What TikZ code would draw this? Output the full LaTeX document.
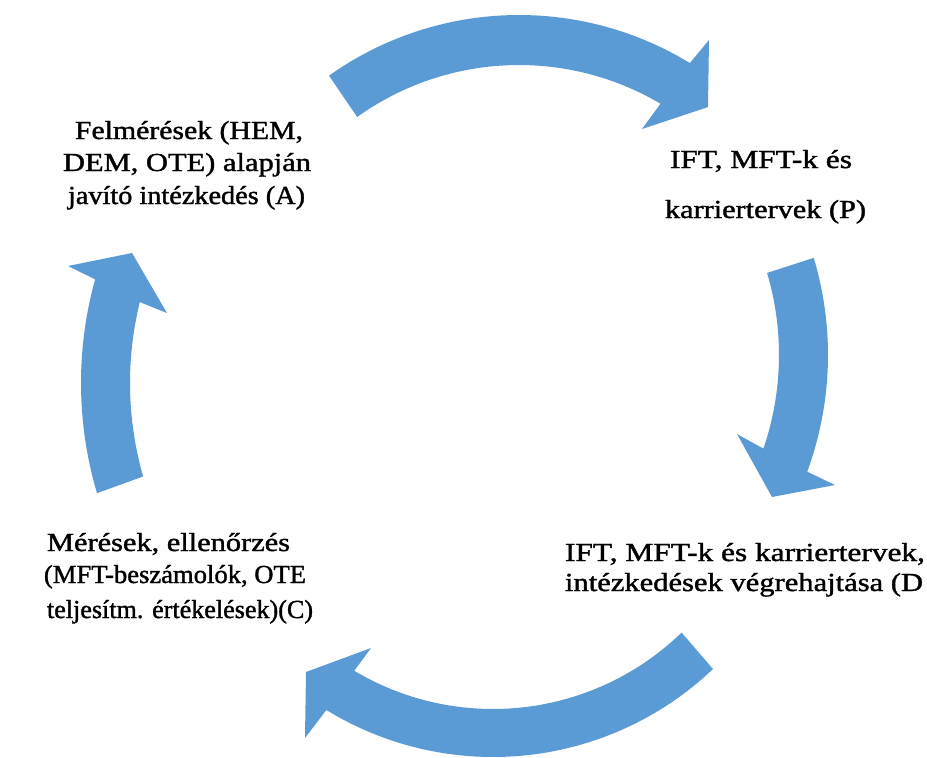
\documentclass[tikz,border=0pt]{standalone}
\usepackage{fontspec}
\usepackage{graphicx}
\setmainfont[FakeBold=1.3]{Liberation Serif}
\usetikzlibrary{calc}
\definecolor{cycblue}{RGB}{91,155,213}
\newcommand\txtline[5]{\node[txt] (#1) at ({(#2+#3)/2},#4) {\resizebox{\dimexpr#3pt-#2pt\relax}{\height}{#5}};}
\begin{document}
\begin{tikzpicture}[x=1pt,y=-1pt,
  txt/.style={anchor=base,inner sep=0pt,outer sep=0pt,font=\fontsize{26}{30}\selectfont},
  arrowfill/.style={fill=cycblue}]
\fill[white] (0,0) rectangle (927,758);
\useasboundingbox (0,0) rectangle (927,758);
% top arrow
\fill[arrowfill] plot[smooth,domain=-125.4:-58.6,samples=30,variable=\t] ({519+328*cos(\t)},{343+328*sin(\t)})
  -- (709,40) -- (708,107) -- (642,129)
  -- plot[smooth,domain=-59.4:-125.6,samples=30,variable=\t] ({519+278*cos(\t)},{343+278*sin(\t)}) -- cycle;
% right arrow
\fill[arrowfill] plot[smooth,domain=-16.7:20.2,samples=30,variable=\t] ({490+338*cos(\t)},{355+338*sin(\t)})
  -- (835,485) -- (772,497) -- (737,434)
  -- plot[smooth,domain=18.9:-16.5,samples=30,variable=\t] ({490+289*cos(\t)},{355+289*sin(\t)}) -- cycle;
% bottom arrow
\fill[arrowfill] plot[smooth,domain=46.4:121.5,samples=30,variable=\t] ({493+319*cos(\t)},{438+319*sin(\t)})
  -- (305,738) -- (306,672) -- (371,648)
  -- plot[smooth,domain=120.8:45.9,samples=30,variable=\t] ({493+271*cos(\t)},{438+271*sin(\t)}) -- cycle;
% left arrow
\fill[arrowfill] plot[smooth,domain=163.5:195.5,samples=30,variable=\t] ({469+388*cos(\t)},{383+388*sin(\t)})
  -- (68,266) -- (132,253) -- (167,313)
  -- plot[smooth,domain=193.8:164.0,samples=30,variable=\t] ({469+339*cos(\t)},{383+339*sin(\t)}) -- cycle;
% texts
\txtline{a1}{75}{303}{139}{Felmérések (HEM,}
\txtline{a2}{63}{311}{171}{DEM, OTE) alapján}
\txtline{a3}{68}{305}{204}{javító intézkedés (A)}
\txtline{p1}{670}{852}{168}{IFT, MFT-k és}
\txtline{p2}{665}{866}{218}{karriertervek (P)}
\txtline{d1}{565}{925}{561}{IFT, MFT-k és karriertervek,}
\txtline{d2}{565}{923}{591}{intézkedések végrehajtása (D}
\txtline{c1}{47}{290}{551}{Mérések, ellenőrzés}
\txtline{c2}{44}{306}{583}{(MFT-beszámolók, OTE}
\txtline{c3}{47}{313}{618}{teljesítm. értékelések)(C)}
\end{tikzpicture}
\end{document}
